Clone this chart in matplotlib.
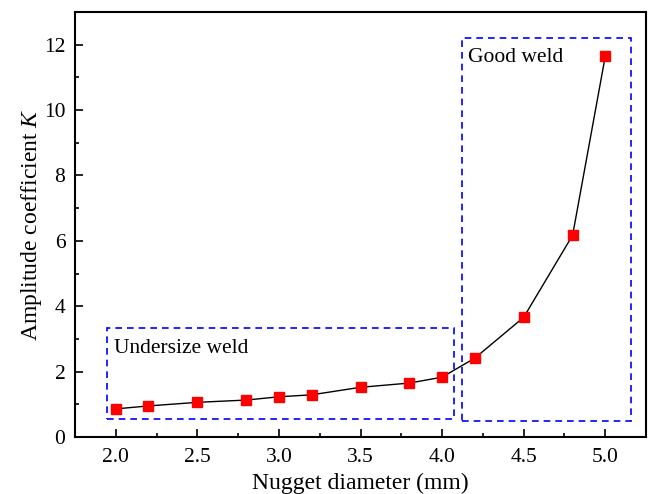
import matplotlib
matplotlib.use('Agg')
import matplotlib.pyplot as plt
from matplotlib.patches import Rectangle
from matplotlib.ticker import MultipleLocator

plt.rcParams['font.family'] = ['Liberation Serif', 'DejaVu Serif']
plt.rcParams['mathtext.fontset'] = 'custom'
plt.rcParams['mathtext.it'] = 'Liberation Serif:italic'

diameter = [2.0, 2.2, 2.5, 2.8, 3.0, 3.2, 3.5, 3.8, 4.0, 4.2, 4.5, 4.8, 5.0]
k_values = [0.86, 0.95, 1.06, 1.13, 1.23, 1.29, 1.52, 1.65, 1.83, 2.41, 3.66, 6.17, 11.64]

# region boxes (x0, y0, x1, y1)
undersize_box = (1.945, 0.54, 4.07, 3.33)
good_box = (4.12, 0.50, 5.16, 12.2)

fig = plt.figure(figsize=(6.49, 4.94), dpi=100)
ax = fig.add_axes([0.1156, 0.1154, 0.8798, 0.8603])

ax.plot(diameter, k_values, color='black', lw=1.0, marker='s', ms=6.7,
        mfc='red', mec='red', zorder=3)

for x0, y0, x1, y1 in [undersize_box, good_box]:
    ax.add_patch(Rectangle((x0, y0), x1 - x0, y1 - y0, fill=False,
                           ec='blue', lw=1.2, ls=(0, (4, 3))))

ax.text(1.99, 2.72, 'Undersize weld', fontsize=15.5, va='center', ha='left')
ax.text(4.16, 11.6, 'Good weld', fontsize=15.5, va='center', ha='left')

ax.set_xlim(1.75, 5.25)
ax.set_ylim(0, 13)
ax.xaxis.set_major_locator(MultipleLocator(0.5))
ax.xaxis.set_minor_locator(MultipleLocator(0.25))
ax.yaxis.set_major_locator(MultipleLocator(2))
ax.yaxis.set_minor_locator(MultipleLocator(1))
ax.xaxis.set_major_formatter(matplotlib.ticker.FormatStrFormatter('%.1f'))
ax.tick_params(which='both', direction='in', labelsize=15.5, width=1.2)
ax.tick_params(which='major', length=6)
ax.tick_params(axis='x', which='major', pad=8)
ax.tick_params(axis='y', which='major', pad=7)
ax.tick_params(which='minor', length=3)
for s in ax.spines.values():
    s.set_linewidth(1.5)

ax.set_xlabel('Nugget diameter (mm)', fontsize=17, labelpad=4)
ax.set_ylabel('Amplitude coefficient $K$', fontsize=17, labelpad=0)

fig.savefig('out.png', dpi=100)
